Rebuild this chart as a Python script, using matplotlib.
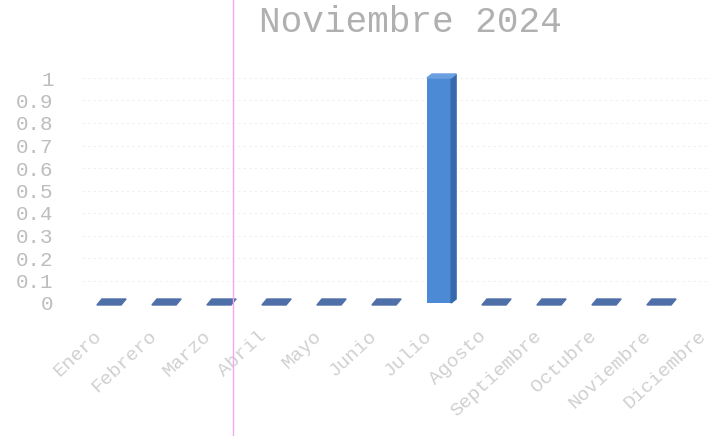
import matplotlib.pyplot as plt
from matplotlib.patches import Polygon
from matplotlib.transforms import ScaledTranslation

MESES = ['Enero', 'Febrero', 'Marzo', 'Abril', 'Mayo', 'Junio', 'Julio',
         'Agosto', 'Septiembre', 'Octubre', 'Noviembre', 'Diciembre']
# Diciembre has no mark in the reference
VALORES = [0, 0, 0, 0, 0, 0, 1, 0, 0, 0, 0, None]
Y_TICKS = [0, 0.1, 0.2, 0.3, 0.4, 0.5, 0.6, 0.7, 0.8, 0.9, 1]
Y_LABELS = ['0', '0.1', '0.2', '0.3', '0.4', '0.5', '0.6', '0.7', '0.8', '0.9', '1']
TITULO = 'Noviembre 2024'

FONT = 'Liberation Mono'
FRONT = '#4d8ad6'
SIDE = '#3668ad'
TOP = '#6a9fe0'
SLAB = '#4f6fa8'

W, H = 710, 436
fig = plt.figure(figsize=(W / 100, H / 100), dpi=100)
# axes runs past the right edge: the last column is cut off in the reference
ax = fig.add_axes([81.5 / W, (H - 303) / H, 660 / W, 225 / H])
ax.set_xlim(-0.5, 11.5)
ax.set_ylim(0, 1)

bw = 0.44
dx = 5 / 55
dy = 4 / 225
for i, v in enumerate(VALORES):
    if v is None:
        continue
    x0, x1 = i - bw / 2, i + bw / 2
    if v > 0:
        ax.bar(i, v, width=bw, color=FRONT, zorder=3)
        ax.add_patch(Polygon([(x1, 0), (x1 + dx, dy), (x1 + dx, v + dy), (x1, v)],
                             closed=True, color=SIDE, zorder=3, clip_on=False))
        ax.add_patch(Polygon([(x0, v), (x1, v), (x1 + dx, v + dy), (x0 + dx, v + dy)],
                             closed=True, color=TOP, zorder=3, clip_on=False))
    else:
        ax.add_patch(Polygon([(x0, v - dy / 2), (x1, v - dy / 2),
                              (x1 + dx, v + dy), (x0 + dx, v + dy)],
                             closed=True, color=SLAB, zorder=3, clip_on=False))

ax.set_yticks(Y_TICKS, Y_LABELS)
ax.yaxis.grid(True, color='#efefef', linestyle=(0, (2, 3)), linewidth=0.8)
ax.set_axisbelow(True)
for s in ax.spines.values():
    s.set_visible(False)
ax.tick_params(length=0)
ax.tick_params(axis='y', pad=20, labelsize=15, labelcolor='#bdbdbd')
for t in ax.get_yticklabels():
    t.set_fontfamily(FONT)

ax.set_xticks(range(len(MESES)), MESES)
ax.tick_params(axis='x', pad=22, labelsize=14, labelcolor='#d0d0d0')
off = ScaledTranslation(-10 / 100, 0, fig.dpi_scale_trans)
for t in ax.get_xticklabels():
    t.set_fontfamily(FONT)
    t.set_rotation(43)
    t.set_ha('right')
    t.set_va('center')
    t.set_rotation_mode('anchor')
    t.set_transform(t.get_transform() + off)

fig.text(410 / W, 1 - 22 / H, TITULO, ha='center', va='center',
         fontsize=26, color='#b0b0b0', fontfamily=FONT)

# pink vertical line from the scanned page
fig.add_artist(plt.Line2D([233 / W, 233 / W], [0, 1], color='#f4a8f4', linewidth=1))

fig.savefig('out.png', dpi=100)
